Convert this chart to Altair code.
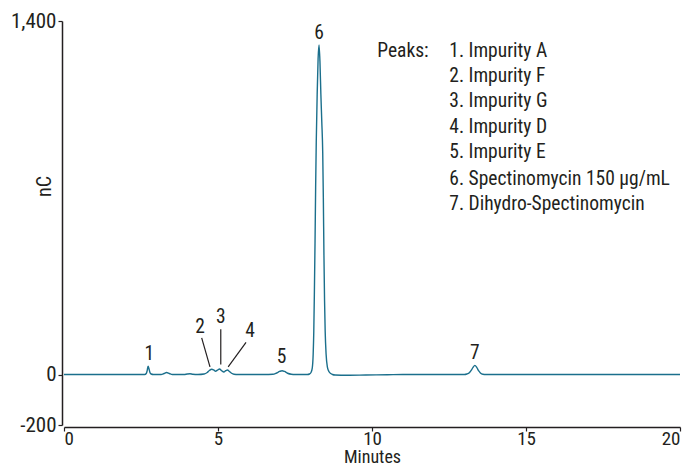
import altair as alt
import pandas as pd

# chromatogram trace (minutes, nC)
times = [0.0, 0.5, 1.0, 1.5, 2.0, 2.5, 2.62, 2.67, 2.70, 2.73, 2.76, 2.79, 2.83, 2.9,
         3.15, 3.25, 3.33, 3.42, 3.52, 3.9, 4.0, 4.09, 4.18, 4.35,
         4.55, 4.65, 4.72, 4.80, 4.86, 4.92, 4.98, 5.05, 5.12, 5.19, 5.25, 5.31, 5.37, 5.44, 5.52, 5.65,
         6.5, 6.78, 6.90, 7.00, 7.08, 7.16, 7.26, 7.38, 7.5,
         7.90, 7.97, 8.02, 8.06, 8.09, 8.11, 8.13, 8.15, 8.17, 8.19, 8.22, 8.25, 8.28,
         8.31, 8.34, 8.37, 8.40, 8.42, 8.44, 8.46, 8.48, 8.51, 8.55, 8.60, 8.66, 8.72,
         8.8, 9.2, 9.8, 10.5, 11.0, 11.5, 12.5, 13.0,
         13.08, 13.16, 13.22, 13.28, 13.34, 13.40, 13.46, 13.52, 13.6, 13.7,
         14.5, 16.0, 18.0, 20.0]
signal = [0, 0, 0, 0, 0, 0, 0, 4, 15, 33, 22, 8, 2, 0,
          0, 4, 8, 4, 0, 0, 2, 3, 1, 0,
          2, 8, 16, 21, 18, 13, 17, 22, 15, 10, 15, 18, 12, 5, 1, 0,
          0, 1, 6, 12, 15, 12, 5, 1, 0,
          0, 2, 8, 25, 80, 170, 330, 520, 740, 920, 1110, 1250, 1305,
          1240, 1110, 1000, 880, 700, 470, 290, 170, 80, 30, 12, 4, 0,
          -2, -3, -2, -1, 0, 0, 0, 0,
          2, 7, 16, 28, 36, 28, 15, 6, 1, 0,
          0, 0, 0, 0]

# peak number labels
peak_ids = ["1", "2", "3", "4", "5", "6", "7"]
peak_lx = [2.77, 4.42, 5.09, 6.04, 7.06, 8.28, 13.34]
peak_ly = [83, 189, 228, 173, 71, 1354, 87]

# leader lines for peaks 2, 3, 4
lead_x1 = [4.47, 5.09, 5.91]
lead_y1 = [145, 179, 127]
lead_x2 = [4.74, 5.09, 5.33]
lead_y2 = [30, 40, 30]

# peak list text
legend_items = ["1. Impurity A", "2. Impurity F", "3. Impurity G", "4. Impurity D",
                "5. Impurity E", "6. Spectinomycin 150 µg/mL", "7. Dihydro-Spectinomycin"]
legend_y = [1283, 1182, 1082, 981, 880, 776, 674]
legend_x = 12.51
legend_head = "Peaks:"
legend_head_x = 10.17

FONT = "Liberation Sans Narrow, Roboto Condensed, Arial Narrow, Roboto, sans-serif"
TXT = "#231f20"

df = pd.DataFrame({"t": times, "v": signal})
lab = pd.DataFrame({"id": peak_ids, "t": peak_lx, "v": peak_ly})
lead = pd.DataFrame({"x1": lead_x1, "y1": lead_y1, "x2": lead_x2, "y2": lead_y2})
leg = pd.DataFrame({"txt": legend_items, "t": [legend_x] * len(legend_items), "v": legend_y})
head = pd.DataFrame({"txt": [legend_head], "t": [legend_head_x], "v": [legend_y[0]]})

xs = alt.Scale(domain=[0, 20], nice=False, zero=False)
ys = alt.Scale(domain=[-200, 1400], nice=False, zero=False)

line = alt.Chart(df).mark_line(color="#1b6f8c", strokeWidth=1.4, interpolate="monotone").encode(
    x=alt.X("t:Q", scale=xs, axis=alt.Axis(title="Minutes", values=[0, 5, 10, 15, 20], offset=2,
                                           tickSize=4, labelPadding=-2, labelFontSize=19,
                                           titleFontSize=18,
                                           titleY=35, titleBaseline="alphabetic")),
    y=alt.Y("v:Q", scale=ys, axis=alt.Axis(title="nC", values=[-200, 0, 1400], offset=2, tickSize=4,
                                           labelPadding=2,
                                           labelExpr="replace(format(datum.value, ','), '\u2212', '-')",
                                           titleX=-18, titleY=165, titleBaseline="middle",
                                           titleAlign="center")),
)

labels = alt.Chart(lab).mark_text(font=FONT, fontSize=19.5, color=TXT, baseline="middle", align="center").encode(
    x=alt.X("t:Q", scale=xs), y=alt.Y("v:Q", scale=ys), text="id:N")

leaders = alt.Chart(lead).mark_rule(color=TXT, strokeWidth=1.2).encode(
    x=alt.X("x1:Q", scale=xs), y=alt.Y("y1:Q", scale=ys), x2="x2:Q", y2="y2:Q")

legend = alt.Chart(leg).mark_text(font=FONT, fontSize=19.5, color=TXT, baseline="middle", align="left").encode(
    x=alt.X("t:Q", scale=xs), y=alt.Y("v:Q", scale=ys), text="txt:N")

legend_h = alt.Chart(head).mark_text(font=FONT, fontSize=19.5, color=TXT, baseline="middle", align="left").encode(
    x=alt.X("t:Q", scale=xs), y=alt.Y("v:Q", scale=ys), text="txt:N")

chart = alt.layer(line, leaders, labels, legend, legend_h).properties(
    width=616, height=404,
    autosize=alt.AutoSizeParams(type="none"),
    padding={"left": 56, "top": 13, "right": 2, "bottom": 41},
).configure_view(stroke=None).configure_axis(
    grid=False, domainColor=TXT, tickColor=TXT, domainWidth=1.5, tickWidth=1.2,
    labelFont=FONT, labelFontSize=21, labelColor=TXT,
    titleFont=FONT, titleFontSize=20, titleFontWeight="normal", titleColor=TXT,
)

chart.save("out.html", embed_options={"renderer": "svg", "actions": False})
